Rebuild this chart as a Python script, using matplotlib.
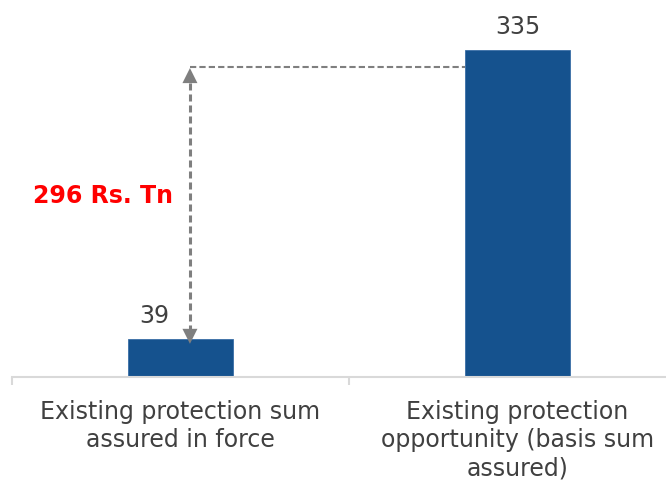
import matplotlib
matplotlib.use("Agg")
import matplotlib.pyplot as plt

categories = ["Existing protection sum\nassured in force",
              "Existing protection\nopportunity (basis sum\nassured)"]
values = [39, 335]
arrow_top = 318  # level of the dashed gap marker

BAR_COLOR = "#15528E"
TEXT_COLOR = "#404040"
GRAY = "#7f7f7f"

plt.rcParams["font.family"] = ["DejaVu Sans"]

fig = plt.figure(figsize=(6.66, 4.81), dpi=100)
ax = fig.add_axes([12 / 666, 1 - 378 / 481, 674 / 666, 378 / 481])

x = list(range(len(values)))
ax.bar(x, values, width=0.31, color=BAR_COLOR, edgecolor="#3a6ea6", linewidth=0.6, zorder=2)
ax.set_xlim(-0.5, 1.5)
ax.set_ylim(0, 387.3)

# value labels; the small one sits left of the arrow
label_x = [x[0] - 0.079, x[1]]
for lx, v in zip(label_x, values):
    ax.text(lx, v + 12, f"{v}", ha="center", va="bottom", fontsize=17, color=TEXT_COLOR)

# gap arrow between the two bars
arr_x = 0.028
top = arrow_top - 1.5
bottom = values[0] - 5
ax.plot([arr_x, arr_x], [bottom + 12, top - 12], color=GRAY, lw=2.2,
        linestyle=(0, (2.3, 1.3)), zorder=3)
for tip, back in [(top, top - 16), (bottom, bottom + 16)]:
    ax.annotate("", xy=(arr_x, tip), xytext=(arr_x, back),
                arrowprops=dict(arrowstyle="-|>", color=GRAY, lw=0, shrinkA=0, shrinkB=0,
                                mutation_scale=27), zorder=3)
ax.plot([arr_x, 0.845], [arrow_top, arrow_top], color=GRAY, lw=1.5, linestyle=(0, (3, 1.5)), zorder=1)
ax.text(-0.23, 186, f"{values[1] - values[0]} Rs. Tn", ha="center", va="center",
        fontsize=17, fontweight="bold", color="#FF0000")

ax.set_xticks(x)
ax.set_xticklabels(categories, fontsize=17, color=TEXT_COLOR, linespacing=1.22)
ax.set_xticks([-0.5, 0.5, 1.5], minor=True)
ax.tick_params(axis="x", which="major", length=0, pad=16)
ax.tick_params(axis="x", which="minor", length=6, width=1.5, color="#d9d9d9")
ax.set_yticks([])
for s in ["top", "left", "right"]:
    ax.spines[s].set_visible(False)
ax.spines["bottom"].set_color("#d9d9d9")
ax.spines["bottom"].set_linewidth(1.5)

fig.savefig("out.png", dpi=100)
